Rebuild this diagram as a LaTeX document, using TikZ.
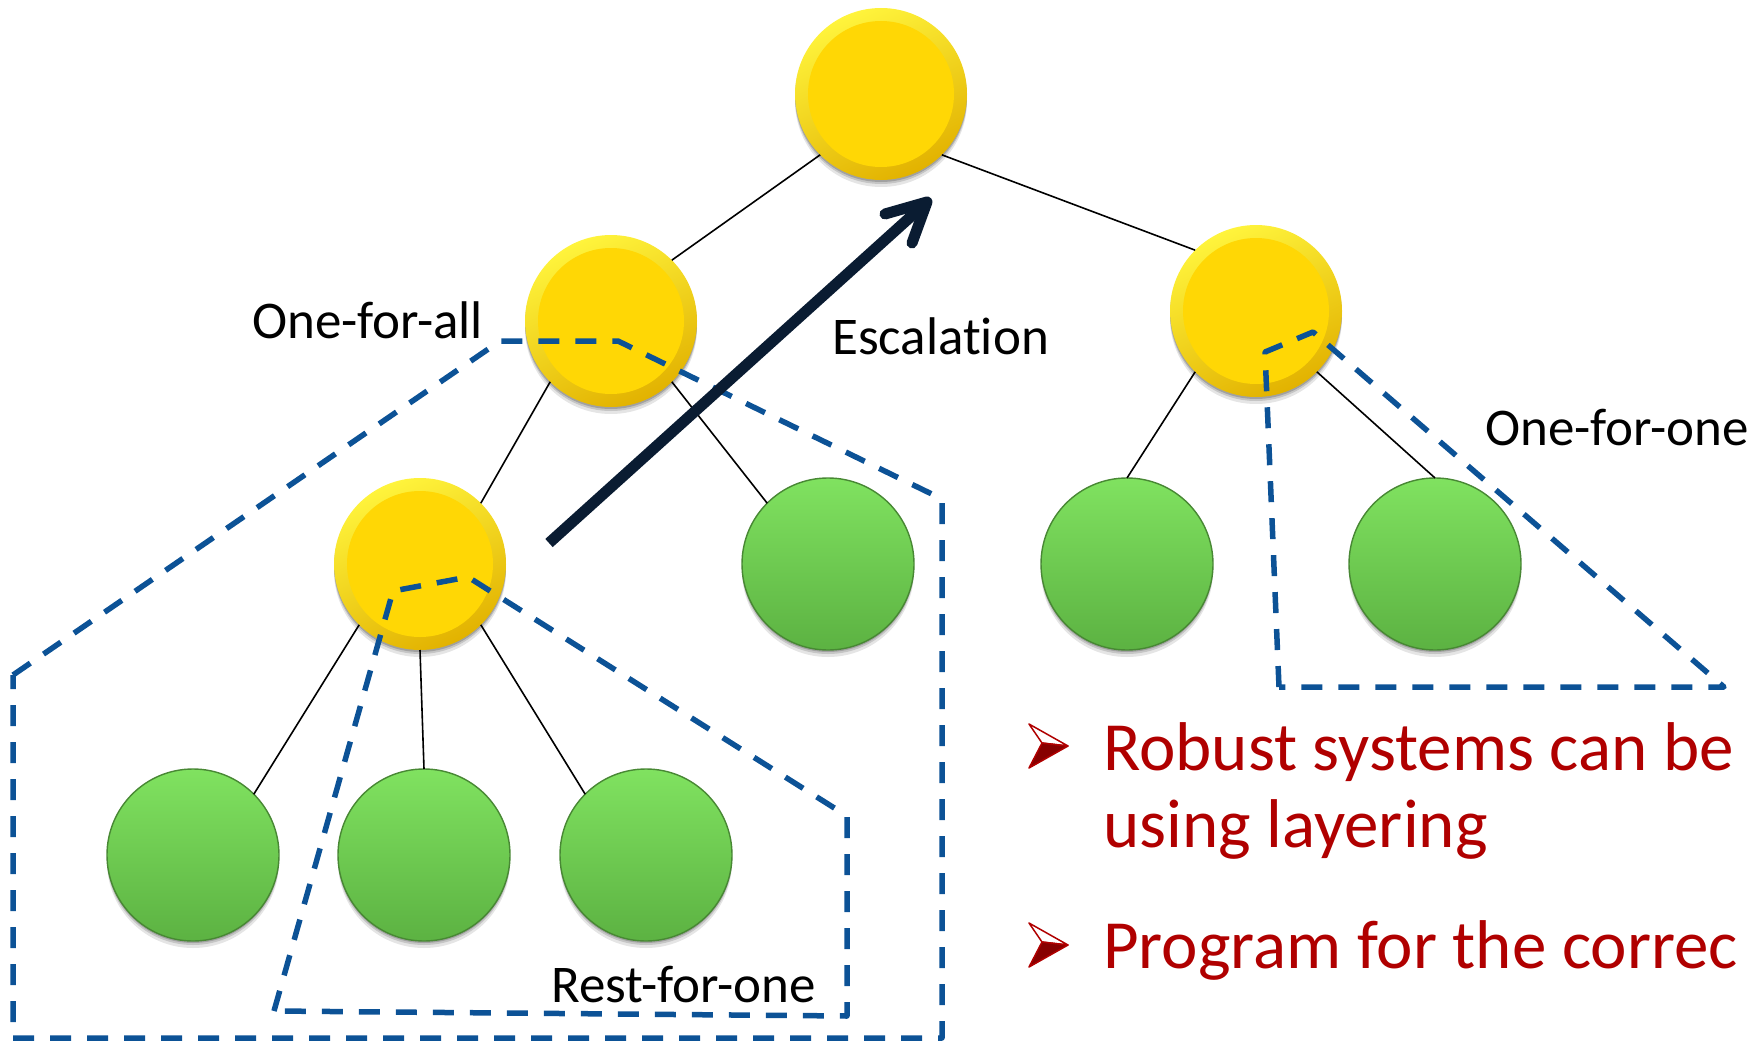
\documentclass[tikz,border=0pt]{standalone}
\usepackage{fontspec}
\setmainfont{Carlito}[Ligatures=NoCommon]
\usetikzlibrary{calc}
\definecolor{dblue}{RGB}{12,82,150}
\definecolor{escnavy}{RGB}{10,28,50}
\definecolor{redtxt}{RGB}{176,0,0}
\definecolor{darkred}{RGB}{135,0,0}
\definecolor{yin}{RGB}{255,215,5}
\definecolor{ytop}{RGB}{255,244,60}
\definecolor{ybot}{RGB}{226,178,0}
\definecolor{gtop}{RGB}{128,226,96}
\definecolor{gbot}{RGB}{92,178,66}
\definecolor{gedge}{RGB}{72,136,52}
\tikzset{
  softshadow/.style={
    preaction={fill=black, fill opacity=0.10, transform canvas={yshift=-7pt}},
    preaction={fill=black, fill opacity=0.14, transform canvas={yshift=-4pt}},
    preaction={fill=black, fill opacity=0.18, transform canvas={yshift=-2pt}}},
  ynode/.style={circle, minimum size=172pt, inner sep=0pt, outer sep=0pt, softshadow,
    top color=ytop, bottom color=ybot, shading angle=25,
    path picture={\fill[yin] (path picture bounding box.center) circle (73pt);}},
  gnode/.style={circle, minimum size=172pt, inner sep=0pt, outer sep=0pt, softshadow,
    top color=gtop, bottom color=gbot, draw=gedge, line width=1.4pt},
  link/.style={draw=black, line width=1.6pt},
  grp/.style={draw=dblue, line width=5.5pt, dash pattern=on 21pt off 16pt, line join=round},
  lbl/.style={font=\fontsize{53}{60}\selectfont, inner sep=0pt, anchor=base west},
  bul/.style={font=\fontsize{69}{77}\selectfont, text=redtxt, inner sep=0pt, anchor=base west},
  esc/.style={draw=escnavy, line width=11pt},
  bulhi/.style={fill=white, draw=redtxt, line width=1.5pt, line join=round},
  bullo/.style={fill=darkred, draw=redtxt, line width=1.5pt, line join=round},
}
\begin{document}
\begin{tikzpicture}[x=1pt, y=-1pt]
\useasboundingbox (0,0) rectangle (1748,1041);
\clip (0,0) rectangle (1748,1041);

% nodes
\node[ynode] (root) at (881,94) {};
\node[ynode] (lm) at (611,321) {};
\node[ynode] (rm) at (1256,311) {};
\node[ynode] (ly) at (420,564) {};
\node[gnode] (g1) at (828,564) {};
\node[gnode] (g2) at (1127,564) {};
\node[gnode] (g3) at (1435,564) {};
\node[gnode] (b1) at (193,855) {};
\node[gnode] (b2) at (424,855) {};
\node[gnode] (b3) at (646,855) {};

% links
\draw[link] (root.225) -- (lm.45);
\draw[link] (root.-45) -- (rm.135);
\draw[link] (lm.225) -- (ly.45);
\draw[link] (lm.-45) -- (g1.135);
\draw[link] (ly.225) -- (b1.45);
\draw[link] (ly.-90) -- (b2.90);
\draw[link] (ly.-45) -- (b3.135);
\draw[link] (rm.225) -- (g2.90);
\draw[link] (rm.-45) -- (g3.90);

% groups
\draw[grp] (13,675) -- (500,341) -- (618,341) -- (942,499) -- (942,1038) -- (13,1038) -- cycle;
\draw[grp] (274,1011) -- (393,591) -- (468,577) -- (847,816) -- (847,1016) -- cycle;
\draw[grp] (1279,687) -- (1265,352) -- (1313,332) -- (1724,687) -- cycle;

% labels
\node[lbl] (ofa) at (252,338) {One-for-all};
\node[lbl] (escl) at (832,354) {Escalation};
\node[lbl] (ofo) at (1485,445) {One-for-one};
\node[lbl] (rfo) at (551,1002) {Rest-for-one};

% escalation arrow
\coordinate (esc0) at (549,543);
\coordinate (esc1) at (927,202);
\coordinate (escb1) at (885,214);
\coordinate (escb2) at (912,243);
\draw[esc] (esc0) -- (esc1);
\draw[esc, line cap=round, line join=round] (escb1) -- (esc1) -- (escb2);

% bullets
\path[bulhi] (1029,724) -- (1068,746) -- (1042,743) -- cycle;
\path[bullo] (1042,743) -- (1068,746) -- (1029,768) -- cycle;
\path[bulhi] (1029,923) -- (1068,945) -- (1042,942) -- cycle;
\path[bullo] (1042,942) -- (1068,945) -- (1029,967) -- cycle;
\node[bul] (t1) at (1103,770) {Robust systems can be};
\node[bul] (t2) at (1103,847) {using layering};
\node[bul] (t3) at (1103,968) {Program for the correc};
\end{tikzpicture}
\end{document}
